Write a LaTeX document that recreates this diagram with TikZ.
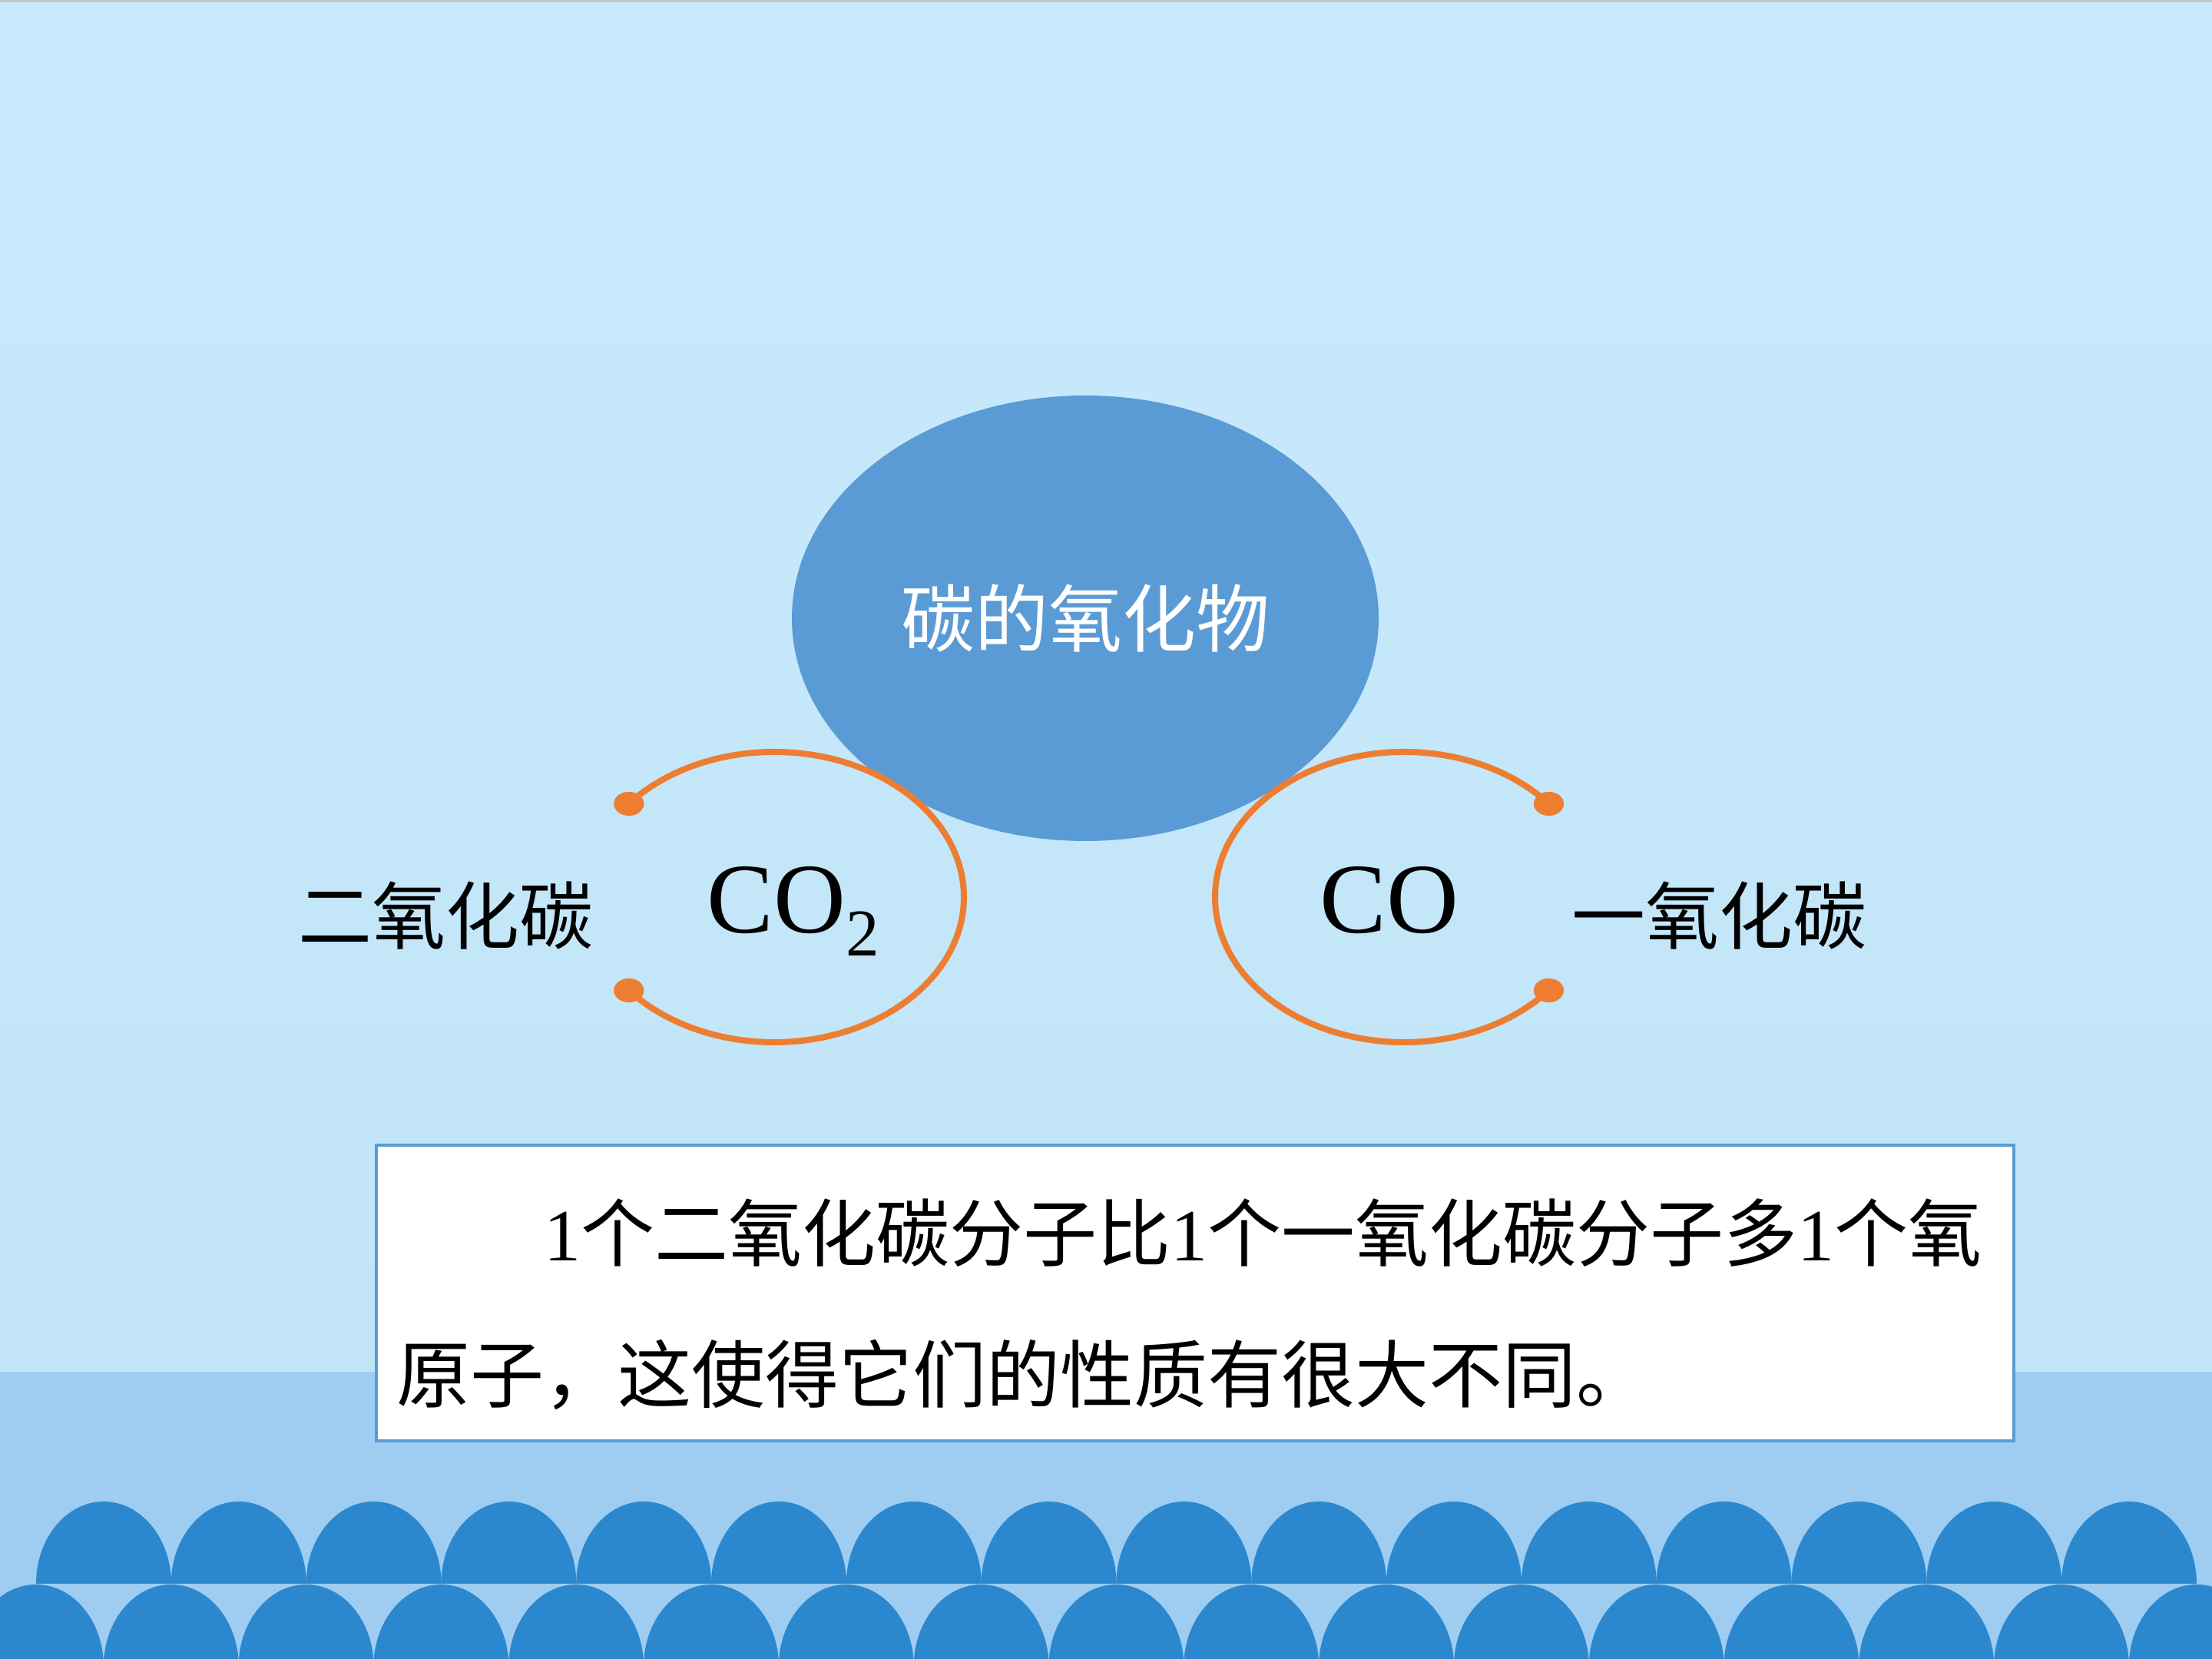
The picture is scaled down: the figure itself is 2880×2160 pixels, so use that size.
\documentclass[tikz,border=0pt]{standalone}
\usepackage{fontspec}
\setmainfont{Liberation Serif}
\newfontfamily\cjk{Noto Sans CJK SC}
\usetikzlibrary{shapes.geometric}
\definecolor{bgtop}{HTML}{C8EAFC}
\definecolor{bgmid}{HTML}{C1E4F7}
\definecolor{band}{HTML}{9ECDF1}
\definecolor{wave}{HTML}{2B88CE}
\definecolor{blob}{HTML}{5B9BD5}
\definecolor{ring}{HTML}{ED7D31}
\definecolor{topline}{HTML}{C8C8C8}
\begin{document}
\begin{tikzpicture}[x=0.25pt,y=0.25pt,
  cjktext/.style={font=\cjk\fontsize{24pt}{28pt}\selectfont, inner sep=0pt, text=black},
  formula/.style={font=\fontsize{32.5pt}{36pt}\selectfont, inner sep=0pt, text=black},
  ringline/.style={draw=ring, line width=2pt},
  ringdot/.style={fill=ring},
  wavefill/.style={fill=wave}]
\useasboundingbox (0,0) rectangle (2880,2160);
% background
\shade[top color=bgtop, bottom color=bgmid] (0,374) rectangle (2880,2160);
\fill[band] (0,0) rectangle (2880,374);
\fill[topline] (0,2157) rectangle (2880,2160);
% waves
\begin{scope}
  \clip (0,0) rectangle (2880,2160);
  \foreach \k in {0,...,15}
    \fill[wavefill] ({47+175.8*\k},98) arc[start angle=180, end angle=0, x radius=22pt, y radius=26.75pt] -- cycle;
  \foreach \k in {0,...,16}
    \fill[wavefill] ({47+175.8*\k},-10) ellipse[x radius=22pt, y radius=26.75pt];
\end{scope}
% central ellipse
\node[ellipse, fill=blob, minimum width=191pt, minimum height=145pt, inner sep=0pt,
      text=white, font=\cjk\fontsize{24pt}{28pt}\selectfont] (oxides) at (1413,1355) {碳的氧化物};
% orange rings
\coordinate (lc) at (1008,992);
\coordinate (rc) at (1828,992);
\draw[ringline] (lc) ++(140:61.75pt and 47.25pt) arc[start angle=140, end angle=-140, x radius=61.75pt, y radius=47.25pt];
\draw[ringline] (rc) ++(40:61.5pt and 47.25pt) arc[start angle=40, end angle=320, x radius=61.5pt, y radius=47.25pt];
\fill[ringdot] (lc) ++(140:61.75pt and 47.25pt) ellipse[x radius=4.9pt, y radius=3.9pt];
\fill[ringdot] (lc) ++(-140:61.75pt and 47.25pt) ellipse[x radius=4.9pt, y radius=3.9pt];
\fill[ringdot] (rc) ++(40:61.5pt and 47.25pt) ellipse[x radius=4.9pt, y radius=3.9pt];
\fill[ringdot] (rc) ++(-40:61.5pt and 47.25pt) ellipse[x radius=4.9pt, y radius=3.9pt];
% labels
\node[cjktext] (dioxide) at (580,968) {二氧化碳};
\node[cjktext] (monoxide) at (2238,968) {一氧化碳};
\node[formula, anchor=base west] (co2) at (920,945) {CO\raisebox{-7.5pt}{\fontsize{21.75pt}{24pt}\selectfont 2}};
\node[formula, anchor=base west] (co) at (1718,945) {CO};
% text box
\node[draw=blob, line width=1pt, fill=white, anchor=north west, minimum width=533pt,
      minimum height=96.25pt, inner sep=0pt] (note) at (488,671) {};
\node[cjktext, anchor=base west] (line1) at (516,518)
  {\hspace*{2em}{\rmfamily 1}个二氧化碳分子比{\rmfamily 1}个一氧化碳分子多{\rmfamily 1}个氧};
\node[cjktext, anchor=base west] (line2) at (516,334)
  {原子，这使得它们的性质有很大不同。};
\end{tikzpicture}
\end{document}
